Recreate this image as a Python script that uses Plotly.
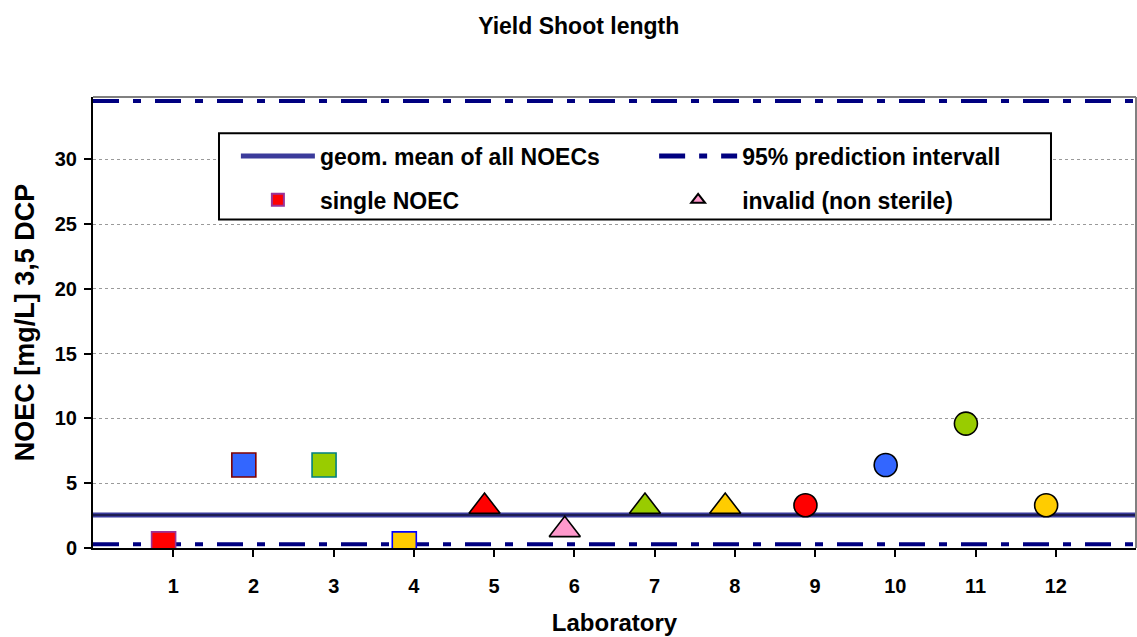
import plotly.graph_objects as go

# Laboratory results (NOEC, mg/L 3,5-DCP)
labs = list(range(1, 13))
noec = [0.32, 6.4, 6.4, 0.32, 3.2, 1.4, 3.2, 3.2, 3.3, 6.4, 9.6, 3.3]

# Summary statistics
geo_mean = 2.55
pi_lower = 0.28
pi_upper = 34.5

x_ticks = list(range(1, 13))
y_ticks = [0, 5, 10, 15, 20, 25, 30]

# Marker style per laboratory: (symbol, fill, outline)
styles = [
    ("square", "#FF0000", "#993399"),
    ("square", "#3366FF", "#800000"),
    ("square", "#99CC00", "#008080"),
    ("square", "#FFCC00", "#0000FF"),
    ("triangle-up", "#FF0000", "#000000"),
    ("triangle-up", "#FF99CC", "#000000"),
    ("triangle-up", "#99CC00", "#000000"),
    ("triangle-up", "#FFCC00", "#000000"),
    ("circle", "#FF0000", "#000000"),
    ("circle", "#3366FF", "#000000"),
    ("circle", "#99CC00", "#000000"),
    ("circle", "#FFCC00", "#000000"),
]
legend_names = {1: ("single NOEC", "legend"), 6: ("invalid (non sterile)", "legend2")}

X_SHIFT = -0.12
FONT = "Liberation Sans, Arial, sans-serif"

fig = go.Figure()

# geometric mean line
fig.add_trace(go.Scatter(
    x=[0, 13], y=[geo_mean, geo_mean], mode="lines",
    line=dict(color="#3B3B9B", width=5),
    name="geom. mean of all NOECs", legend="legend", legendgroup="a",
    hoverinfo="skip",
))
fig.add_trace(go.Scatter(
    x=[0, 13], y=[geo_mean, geo_mean], mode="lines",
    line=dict(color="#15153A", width=1.5),
    showlegend=False, hoverinfo="skip",
))

# 95% prediction interval
fig.add_trace(go.Scatter(
    x=[0, 13, None, 0, 13], y=[pi_upper, pi_upper, None, pi_lower, pi_lower],
    mode="lines", line=dict(color="#000080", width=4, dash="26px,14px,8px,14px"),
    name="95% prediction intervall", legend="legend2", legendgroup="c",
    hoverinfo="skip",
))

for lab, val, (sym, fill, edge) in zip(labs, noec, styles):
    size = 24 if sym == "square" else (27 if sym == "triangle-up" else 23)
    name, leg = legend_names.get(lab, (f"Lab {lab}", "legend"))
    fig.add_trace(go.Scatter(
        x=[lab + X_SHIFT], y=[val], mode="markers",
        marker=dict(symbol=sym, size=size, color=fill,
                    line=dict(color=edge, width=1.6)),
        name=name, legend=leg, legendgroup=("b" if lab == 1 else "d"),
        showlegend=lab in legend_names,
    ))

# plot-area frame (top and right edges) and legend box
fig.add_shape(type="line", xref="paper", yref="paper", x0=0, x1=1, y0=1, y1=1,
              line=dict(color="#808080", width=2))
fig.add_shape(type="line", xref="paper", yref="paper", x0=1, x1=1, y0=0, y1=1,
              line=dict(color="#808080", width=2))
fig.add_shape(type="rect", xref="paper", yref="paper", x0=0.1208, x1=0.9185,
              y0=0.7286, y1=0.9194, fillcolor="white",
              line=dict(color="black", width=2))

legend_common = dict(
    bgcolor="rgba(0,0,0,0)", borderwidth=0, yanchor="top",
    font=dict(family=FONT, size=23, color="black", weight="bold"),
    itemsizing="constant", tracegroupgap=11,
)

fig.update_layout(
    width=1137, height=637,
    margin=dict(l=93, r=1, t=97, b=89),
    paper_bgcolor="white", plot_bgcolor="white",
    font=dict(family=FONT, size=20, color="black", weight="bold"),
    title=dict(text="<b>Yield Shoot length</b>", xref="container", x=0.509,
               y=0.96, yanchor="middle", xanchor="center",
               font=dict(family=FONT, size=23, color="black")),
    xaxis=dict(range=[0, 13], tickvals=x_ticks, ticktext=[str(t) for t in x_ticks],
               ticks="outside", ticklen=7, tickwidth=2, tickcolor="black",
               showline=True, linecolor="black", linewidth=2, showgrid=False,
               zeroline=False, ticklabelstandoff=12,
               tickfont=dict(family=FONT, size=20, weight="bold"),
               title=dict(text="Laboratory", standoff=18,
                          font=dict(family=FONT, size=24, weight="bold"))),
    yaxis=dict(range=[0, 34.8], tickvals=y_ticks,
               ticks="outside", ticklen=7, tickwidth=2, tickcolor="black",
               showline=True, linecolor="black", linewidth=2,
               showgrid=True, gridcolor="#9A9A9A", gridwidth=1, griddash="dot",
               zeroline=False, ticklabelstandoff=3,
               tickfont=dict(family=FONT, size=20, weight="bold"),
               title=dict(text="NOEC [mg/L] 3,5 DCP", standoff=12,
                          font=dict(family=FONT, size=27, weight="bold"))),
    legend=dict(x=0.137, y=0.917, xanchor="left", itemwidth=74, **legend_common),
    legend2=dict(x=0.538, y=0.917, xanchor="left", itemwidth=78, **legend_common),
    showlegend=True,
)

fig.write_html("out.html")
